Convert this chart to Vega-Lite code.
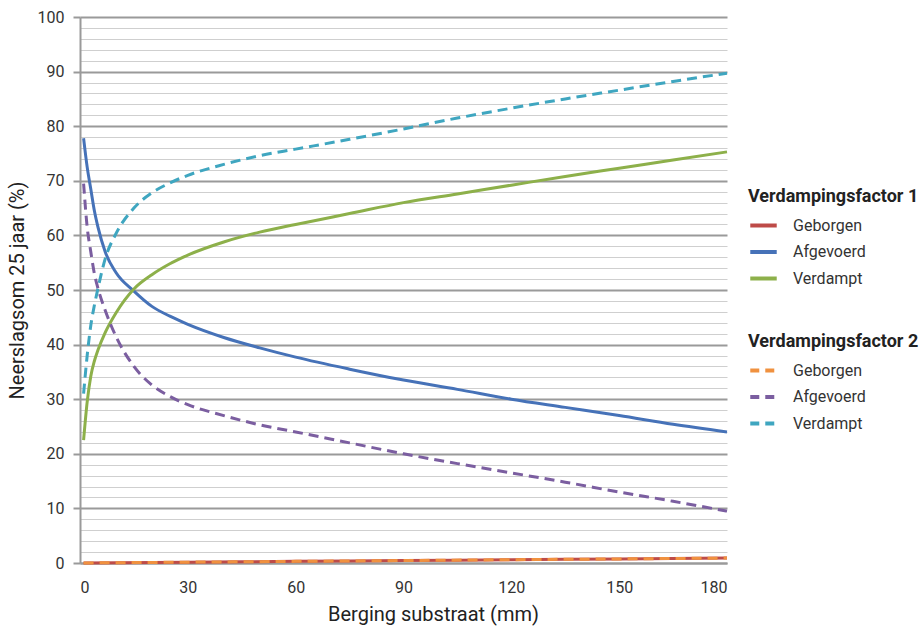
{
  "$schema": "https://vega.github.io/schema/vega-lite/v6.json",
  "width": 647,
  "height": 546,
  "autosize": "none",
  "padding": {"left": 80, "top": 17, "right": 195, "bottom": 67},
  "config": {"font": "Roboto", "view": {"stroke": null}},
  "data": {"values": [
    {"x":1,"s":"Geborgen","f":1,"y":0},{"x":30,"s":"Geborgen","f":1,"y":0.15},{"x":60,"s":"Geborgen","f":1,"y":0.3},{"x":90,"s":"Geborgen","f":1,"y":0.45},{"x":120,"s":"Geborgen","f":1,"y":0.6},{"x":150,"s":"Geborgen","f":1,"y":0.75},{"x":180,"s":"Geborgen","f":1,"y":0.9},
    {"x":1,"s":"Afgevoerd","f":1,"y":77.8},{"x":2,"s":"Afgevoerd","f":1,"y":72.5},{"x":3,"s":"Afgevoerd","f":1,"y":68.5},{"x":4,"s":"Afgevoerd","f":1,"y":64.5},{"x":5,"s":"Afgevoerd","f":1,"y":61.5},{"x":7,"s":"Afgevoerd","f":1,"y":57},{"x":10,"s":"Afgevoerd","f":1,"y":53.2},{"x":15,"s":"Afgevoerd","f":1,"y":49.8},{"x":20,"s":"Afgevoerd","f":1,"y":47},{"x":25,"s":"Afgevoerd","f":1,"y":45.2},{"x":30,"s":"Afgevoerd","f":1,"y":43.7},{"x":40,"s":"Afgevoerd","f":1,"y":41.3},{"x":50,"s":"Afgevoerd","f":1,"y":39.4},{"x":60,"s":"Afgevoerd","f":1,"y":37.7},{"x":75,"s":"Afgevoerd","f":1,"y":35.5},{"x":90,"s":"Afgevoerd","f":1,"y":33.5},{"x":105,"s":"Afgevoerd","f":1,"y":31.8},{"x":120,"s":"Afgevoerd","f":1,"y":30},{"x":135,"s":"Afgevoerd","f":1,"y":28.5},{"x":150,"s":"Afgevoerd","f":1,"y":27},{"x":165,"s":"Afgevoerd","f":1,"y":25.4},{"x":180,"s":"Afgevoerd","f":1,"y":24},
    {"x":1,"s":"Verdampt","f":1,"y":22.5},{"x":2,"s":"Verdampt","f":1,"y":29.5},{"x":3,"s":"Verdampt","f":1,"y":34.2},{"x":4,"s":"Verdampt","f":1,"y":37},{"x":5,"s":"Verdampt","f":1,"y":39},{"x":7,"s":"Verdampt","f":1,"y":42.2},{"x":10,"s":"Verdampt","f":1,"y":45.8},{"x":15,"s":"Verdampt","f":1,"y":50.2},{"x":20,"s":"Verdampt","f":1,"y":52.8},{"x":25,"s":"Verdampt","f":1,"y":54.8},{"x":30,"s":"Verdampt","f":1,"y":56.4},{"x":40,"s":"Verdampt","f":1,"y":58.8},{"x":50,"s":"Verdampt","f":1,"y":60.6},{"x":60,"s":"Verdampt","f":1,"y":62},{"x":75,"s":"Verdampt","f":1,"y":64},{"x":90,"s":"Verdampt","f":1,"y":66},{"x":105,"s":"Verdampt","f":1,"y":67.6},{"x":120,"s":"Verdampt","f":1,"y":69.2},{"x":135,"s":"Verdampt","f":1,"y":70.8},{"x":150,"s":"Verdampt","f":1,"y":72.3},{"x":165,"s":"Verdampt","f":1,"y":73.8},{"x":180,"s":"Verdampt","f":1,"y":75.3},
    {"x":1,"s":"Geborgen","f":2,"y":0},{"x":30,"s":"Geborgen","f":2,"y":0.15},{"x":60,"s":"Geborgen","f":2,"y":0.3},{"x":90,"s":"Geborgen","f":2,"y":0.45},{"x":120,"s":"Geborgen","f":2,"y":0.6},{"x":150,"s":"Geborgen","f":2,"y":0.75},{"x":180,"s":"Geborgen","f":2,"y":0.9},
    {"x":1,"s":"Afgevoerd","f":2,"y":69.5},{"x":2,"s":"Afgevoerd","f":2,"y":61.5},{"x":3,"s":"Afgevoerd","f":2,"y":57},{"x":4,"s":"Afgevoerd","f":2,"y":53},{"x":5,"s":"Afgevoerd","f":2,"y":50.3},{"x":7,"s":"Afgevoerd","f":2,"y":46.3},{"x":10,"s":"Afgevoerd","f":2,"y":41.5},{"x":15,"s":"Afgevoerd","f":2,"y":36},{"x":20,"s":"Afgevoerd","f":2,"y":32.6},{"x":25,"s":"Afgevoerd","f":2,"y":30.5},{"x":30,"s":"Afgevoerd","f":2,"y":29},{"x":40,"s":"Afgevoerd","f":2,"y":27},{"x":50,"s":"Afgevoerd","f":2,"y":25.3},{"x":60,"s":"Afgevoerd","f":2,"y":24},{"x":75,"s":"Afgevoerd","f":2,"y":22},{"x":90,"s":"Afgevoerd","f":2,"y":20},{"x":105,"s":"Afgevoerd","f":2,"y":18.2},{"x":120,"s":"Afgevoerd","f":2,"y":16.5},{"x":135,"s":"Afgevoerd","f":2,"y":14.8},{"x":150,"s":"Afgevoerd","f":2,"y":13},{"x":165,"s":"Afgevoerd","f":2,"y":11.3},{"x":180,"s":"Afgevoerd","f":2,"y":9.5},
    {"x":1,"s":"Verdampt","f":2,"y":31},{"x":2,"s":"Verdampt","f":2,"y":38},{"x":3,"s":"Verdampt","f":2,"y":43.5},{"x":4,"s":"Verdampt","f":2,"y":47.2},{"x":5,"s":"Verdampt","f":2,"y":50.3},{"x":7,"s":"Verdampt","f":2,"y":55.7},{"x":10,"s":"Verdampt","f":2,"y":60.3},{"x":15,"s":"Verdampt","f":2,"y":65},{"x":20,"s":"Verdampt","f":2,"y":67.8},{"x":25,"s":"Verdampt","f":2,"y":69.6},{"x":30,"s":"Verdampt","f":2,"y":71},{"x":40,"s":"Verdampt","f":2,"y":73},{"x":50,"s":"Verdampt","f":2,"y":74.6},{"x":60,"s":"Verdampt","f":2,"y":75.8},{"x":75,"s":"Verdampt","f":2,"y":77.6},{"x":90,"s":"Verdampt","f":2,"y":79.5},{"x":105,"s":"Verdampt","f":2,"y":81.5},{"x":120,"s":"Verdampt","f":2,"y":83.3},{"x":135,"s":"Verdampt","f":2,"y":85},{"x":150,"s":"Verdampt","f":2,"y":86.6},{"x":165,"s":"Verdampt","f":2,"y":88.2},{"x":180,"s":"Verdampt","f":2,"y":89.7}
  ]},
  "encoding": {
    "x": {"field": "x", "type": "quantitative",
      "scale": {"domain": [0, 180], "nice": false},
      "axis": {"title": "Berging substraat (mm)", "values": [0,30,60,90,120,150,180], "grid": false, "ticks": false,
        "domainColor": "#9a9a9a", "domainWidth": 2, "labelFontSize": 16, "labelColor": "#333", "labelPadding": 16,
        "titleFontSize": 20, "titleFontWeight": "normal", "titleColor": "#222", "titlePadding": 9, "titleX": 353}},
    "y": {"field": "y", "type": "quantitative",
      "scale": {"domain": [0, 100], "nice": false},
      "axis": {"title": "Neerslagsom 25 jaar (%)",
        "values": [0,2,4,6,8,10,12,14,16,18,20,22,24,26,28,30,32,34,36,38,40,42,44,46,48,50,52,54,56,58,60,62,64,66,68,70,72,74,76,78,80,82,84,86,88,90,92,94,96,98,100],
        "labelExpr": "datum.value % 10 === 0 ? datum.label : ''",
        "gridColor": {"condition": {"test": "datum.value % 10 === 0", "value": "#9a9a9a"}, "value": "#cfcfcf"},
        "gridWidth": {"condition": {"test": "datum.value % 10 === 0", "value": 2}, "value": 1},
        "tickColor": "#9a9a9a", "tickWidth": 2, "tickSize": 7,
        "tickOpacity": {"condition": {"test": "datum.value % 10 === 0", "value": 1}, "value": 0},
        "domainColor": "#9a9a9a", "domainWidth": 2,
        "labelFontSize": 16, "labelColor": "#333", "labelPadding": 9,
        "titleFontSize": 20, "titleFontWeight": "normal", "titleColor": "#222", "titlePadding": 10}}
  },
  "layer": [
    {"transform": [{"filter": "datum.f == 1"}],
     "mark": {"type": "line", "strokeWidth": 3, "interpolate": "monotone"},
     "encoding": {"color": {"field": "s", "type": "nominal",
        "scale": {"domain": ["Geborgen", "Afgevoerd", "Verdampt"], "range": ["#BE4B48", "#4672B8", "#8DB04A"]},
        "legend": {"title": "Verdampingsfactor 1", "orient": "none", "legendX": 668, "legendY": 171,
          "symbolType": "stroke", "symbolSize": 700, "symbolStrokeWidth": 4, "labelFontSize": 16, "labelColor": "#333",
          "titleFontSize": 18, "titleFontWeight": "bold", "titleColor": "#222", "titlePadding": 4, "labelOffset": 14, "rowPadding": 2.5}}}},
    {"transform": [{"filter": "datum.f == 2"}],
     "mark": {"type": "line", "strokeWidth": 3, "strokeDash": [10, 6], "interpolate": "monotone"},
     "encoding": {"color": {"field": "s", "type": "nominal",
        "scale": {"domain": ["Geborgen", "Afgevoerd", "Verdampt"], "range": ["#F0913F", "#7B5EA0", "#3FA6C0"]},
        "legend": {"title": "Verdampingsfactor 2", "orient": "none", "legendX": 668, "legendY": 316,
          "symbolType": "stroke", "symbolSize": 700, "symbolStrokeWidth": 4, "symbolDash": [9, 6], "labelFontSize": 16, "labelColor": "#333",
          "titleFontSize": 18, "titleFontWeight": "bold", "titleColor": "#222", "titlePadding": 4, "labelOffset": 14, "rowPadding": 2.5}}}}
  ],
  "resolve": {"scale": {"color": "independent"}, "legend": {"color": "independent"}}
}
